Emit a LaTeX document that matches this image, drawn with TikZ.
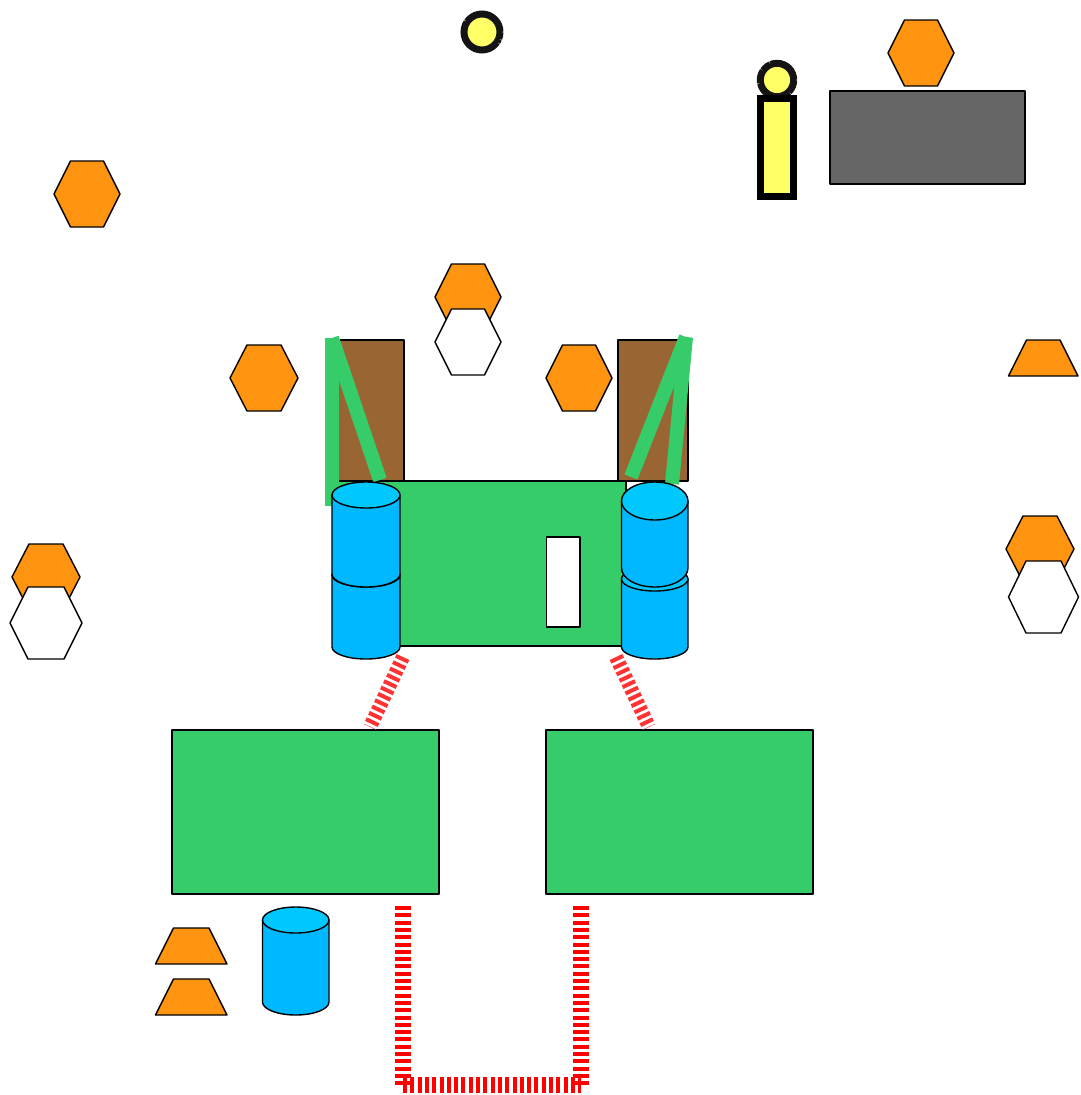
\documentclass[tikz,border=0pt]{standalone}
\definecolor{gr}{HTML}{36CC69}
\definecolor{og}{HTML}{FF9410}
\definecolor{br}{HTML}{996633}
\definecolor{yl}{HTML}{FFFF66}
\definecolor{bl}{HTML}{00B8FF}
\definecolor{blt}{HTML}{00C8FF}
\definecolor{gy}{HTML}{666666}
\definecolor{rd}{HTML}{FF3333}
\tikzset{
  ln/.style={draw=black,line width=1.4pt,line join=round},
  greenline/.style={draw=gr,line width=14pt},
  dashdiag/.style={draw=rd,line width=14pt,dash pattern=on 4pt off 3pt},
  dashred/.style={draw=red,line width=16pt,dash pattern=on 4pt off 3.3pt},
  ring/.style={draw=black!92,line width=7pt,fill=yl,dash pattern=on 1pt off 0.2pt},
}
% centre x, centre y, half width, half height
\newcommand{\hexa}[5]{\draw[ln,fill=#5] (#1-#3,#2) -- (#1-#3/2,#2-#4) -- (#1+#3/2,#2-#4) -- (#1+#3,#2) -- (#1+#3/2,#2+#4) -- (#1-#3/2,#2+#4) -- cycle;}
% left, right, top, bottom
\newcommand{\trap}[4]{\draw[ln,fill=og] (#1,#4) -- (#1+18,#3) -- (#2-18,#3) -- (#2,#4) -- cycle;}
\newcommand{\rbox}[5]{\draw[ln,fill=#5] (#1,#3) rectangle (#2,#4);}
% left, right, ellipse centre y, bottom edge y, ry
\newcommand{\cyl}[5]{%
  \draw[ln,fill=bl] (#1,#3) -- (#1,#4) arc[start angle=180,end angle=0,x radius={(#2-#1)/2},y radius=#5] -- (#2,#3) -- cycle;
  \draw[ln,fill=blt] ({(#1+#2)/2},#3) ellipse[x radius={(#2-#1)/2},y radius=#5];}
\begin{document}
\begin{tikzpicture}[x=1pt,y=-1pt]
\useasboundingbox (0,0) rectangle (1080,1095);
% top lamps and grey block
\draw[ring] (482,32) circle[radius=18];
\draw[ring] (777,80) circle[radius=16.7];
\draw[draw=black,line width=7pt,fill=yl] (760,98.5) rectangle (793.5,196);
\rbox{830}{1025}{91}{184}{gy}
\hexa{921}{53}{33}{33}{og}
\hexa{87}{194}{33}{33}{og}
\hexa{468}{297}{33}{33}{og}
\hexa{468}{342}{33}{33}{white}
\hexa{264}{378}{34}{33}{og}
\hexa{579}{378}{33}{33}{og}
\hexa{46}{577}{34}{33}{og}
\hexa{46}{623}{36}{36}{white}
\hexa{1040}{549}{34}{33}{og}
\hexa{1043.5}{597}{35}{36}{white}
\trap{1008.5}{1078}{340}{376}
\trap{155.5}{227}{928}{964}
\trap{155.5}{227}{979}{1015}
% machine
\rbox{335}{404}{340}{481}{br}
\rbox{618}{688}{340}{481}{br}
\rbox{335}{626}{481}{646}{gr}
\coordinate (la) at (332,338);
\coordinate (lb) at (332,506);
\coordinate (lc) at (380,480);
\coordinate (ra) at (686,337);
\coordinate (rb) at (631,477);
\coordinate (rc) at (672,484);
\draw[greenline] (la) -- (lb);
\draw[greenline] (la) -- (lc);
\draw[greenline] (ra) -- (rb);
\draw[greenline] (ra) -- (rc);
\rbox{546.5}{580}{537}{627}{white}
\cyl{332}{400}{575}{647}{12}
\cyl{332}{400}{495}{574}{13}
\cyl{621.5}{688}{579}{647}{12}
\cyl{621.5}{688}{501}{568}{19}
\rbox{172}{439}{730}{894}{gr}
\rbox{546}{813}{730}{894}{gr}
\cyl{262.5}{329}{920}{1002}{13}
% red connectors
\coordinate (da) at (403,657);
\coordinate (db) at (370,727);
\coordinate (dc) at (616,657);
\coordinate (dd) at (649,727);
\draw[dashdiag] (da) -- (db);
\draw[dashdiag] (dc) -- (dd);
\coordinate (va) at (403,906);
\coordinate (vb) at (403,1085);
\coordinate (vc) at (581,906);
\coordinate (vd) at (581,1085);
\draw[dashred] (va) -- (vb);
\draw[dashred] (vc) -- (vd);
\draw[dashred] (vb) -- (vd);
\end{tikzpicture}
\end{document}
